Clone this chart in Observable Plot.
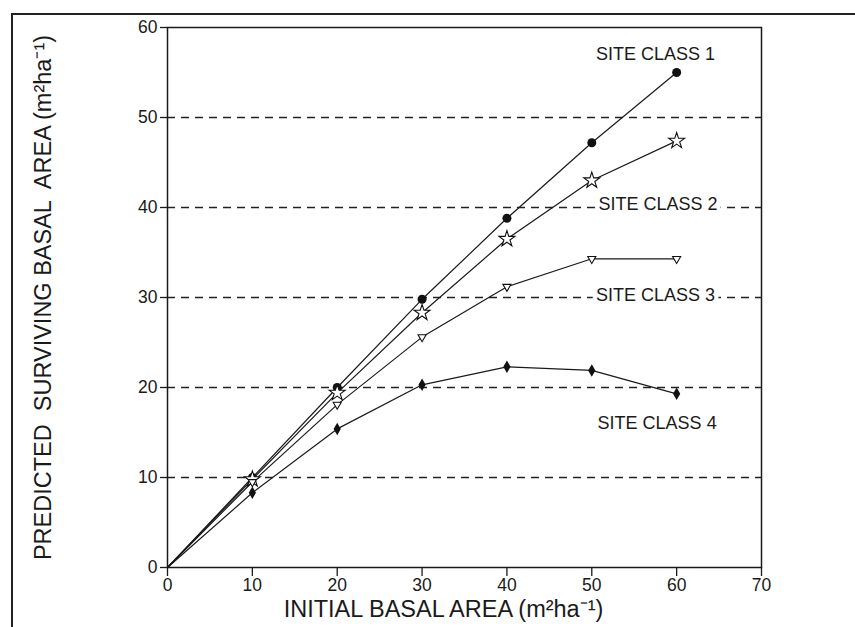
<!DOCTYPE html>
<html><head><meta charset="utf-8">
<script src="https://cdn.jsdelivr.net/npm/d3@7"></script>
<script src="https://cdn.jsdelivr.net/npm/@observablehq/plot@0.6"></script>
<style>
html,body{margin:0;padding:0;background:#fff;}
#wrap{position:relative;width:855px;height:627px;overflow:hidden;}
#border{position:absolute;left:11px;top:13px;width:845px;height:620px;border-top:2px solid #222;border-left:2px solid #222;box-sizing:border-box;pointer-events:none;}
svg{font-family:"Liberation Sans",Arial,sans-serif;}
</style></head>
<body><div id="wrap"><div id="border"></div></div>
<script>
const initial = [0, 10, 20, 30, 40, 50, 60];
const site1 = [0, 10, 20, 29.8, 38.8, 47.2, 55];
const site2 = [0, 9.8, 19.4, 28.3, 36.5, 43, 47.4];
const site3 = [0, 9.5, 18.1, 25.6, 31.2, 34.3, 34.3];
const site4 = [0, 8.3, 15.4, 20.3, 22.3, 21.9, 19.3];
const siteNames = ["SITE CLASS 1", "SITE CLASS 2", "SITE CLASS 3", "SITE CLASS 4"];
const siteLabelX = [57.5, 57.8, 57.5, 57.7];
const siteLabelY = [57, 40.4, 30.2, 16];
const gridValues = [10, 20, 30, 40, 50];
const xTicks = [0, 10, 20, 30, 40, 50, 60, 70];
const yTicks = [0, 10, 20, 30, 40, 50, 60];
const xTitle = "INITIAL BASAL AREA (m²ha⁻¹)";
const yTitle = "PREDICTED  SURVIVING BASAL  AREA (m²ha⁻¹)";

const series = [site1, site2, site3, site4];
const rows = series.flatMap((s, k) => s.map((v, i) => ({site: k + 1, x: initial[i], y: v})));
const pts = rows.filter(d => d.x > 0);
const labels = siteNames.map((n, i) => ({n, x: siteLabelX[i], y: siteLabelY[i]}));

const chart = Plot.plot({
  width: 855, height: 627,
  marginLeft: 167, marginRight: 94, marginTop: 27, marginBottom: 60,
  x: {domain: [0, 70]},
  y: {domain: [0, 60]},
  style: {fontFamily: "'Liberation Sans', Arial, sans-serif", color: "#1a1a1a", background: "transparent"},
  marks: [
    Plot.ruleY(gridValues, {stroke: "#222", strokeWidth: 1.3, strokeDasharray: "8,6"}),
    Plot.frame({stroke: "#1a1a1a", strokeWidth: 1.5}),
    Plot.axisX({ticks: xTicks, tickSize: 9, tickFormat: () => "", label: null, strokeWidth: 1.3}),
    Plot.axisY({ticks: yTicks, tickSize: 7, tickFormat: () => "", label: null, strokeWidth: 1.3}),
    Plot.text(xTicks, {x: d => d, frameAnchor: "bottom", dy: 23, fontSize: 17.5, fill: "#1a1a1a"}),
    Plot.text(yTicks, {y: d => d, frameAnchor: "left", textAnchor: "end", dx: -10, fontSize: 17.5, fill: "#1a1a1a"}),
    Plot.text([xTitle], {frameAnchor: "bottom", dy: 49, dx: -21, fontSize: 23.5, fill: "#1a1a1a"}),
    Plot.text([yTitle], {frameAnchor: "left", textAnchor: "middle", dx: -124, rotate: -90, fontSize: 23.5, fill: "#1a1a1a"}),
    Plot.text(labels, {x: "x", y: "y", text: "n", fontSize: 18, fill: "#1a1a1a", stroke: "white", strokeWidth: 8}),
    Plot.line(rows, {x: "x", y: "y", z: "site", stroke: "#1a1a1a", strokeWidth: 1.2}),
    Plot.dot(pts.filter(d => d.site === 1), {x: "x", y: "y", r: 4.5, fill: "#111", symbol: "circle"}),
    Plot.dot(pts.filter(d => d.site === 2), {x: "x", y: "y", r: 5, fill: "white", stroke: "#111", strokeWidth: 1.1, symbol: "star"}),
    Plot.dot(pts.filter(d => d.site === 3), {x: "x", y: "y", r: 3, fill: "white", stroke: "#111", strokeWidth: 1.1, symbol: "triangle", rotate: 180}),
    Plot.dot(pts.filter(d => d.site === 4), {x: "x", y: "y", r: 3.8, fill: "#111", symbol: "diamond"})
  ]
});
document.getElementById("wrap").appendChild(chart);
</script>
</body></html>
